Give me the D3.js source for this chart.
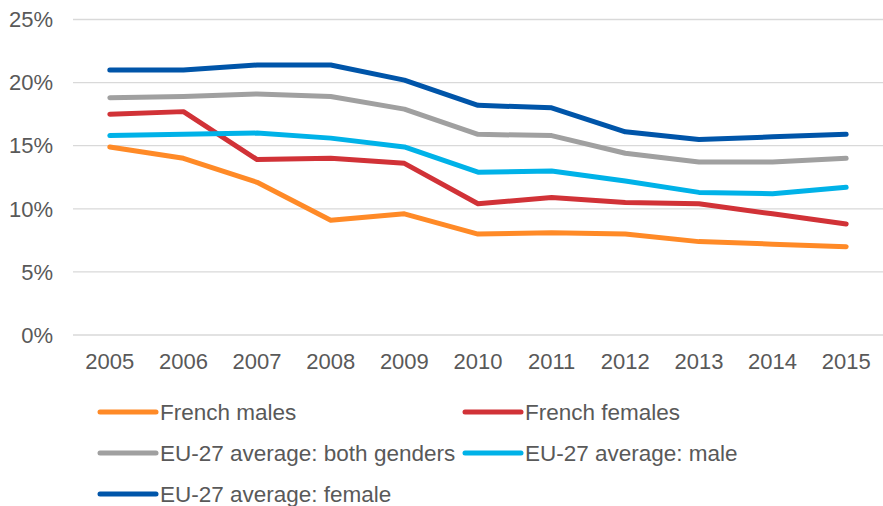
<!DOCTYPE html>
<html lang="en">
<head>
  <meta charset="UTF-8">
  <title>Unemployment rates</title>
  <script src="https://cdn.jsdelivr.net/npm/d3@7/dist/d3.min.js"></script>
  <style>
    body {
      margin: 0;
      background: #ffffff;
      font-family: 'Liberation Sans', Arial, sans-serif;
    }
    svg {
      display: block;
    }
    .tick-label {
      fill: #595959;
      font-size: 22px;
    }
    .legend-label {
      fill: #595959;
      font-size: 22.5px;
    }
  </style>
</head>
<body>
  <svg id="chart" width="883" height="506"></svg>

  <script>
    const years = ["2005", "2006", "2007", "2008", "2009", "2010", "2011", "2012", "2013", "2014", "2015"];
    const yTicks = [0, 5, 10, 15, 20, 25];

    const seriesNames = [
      "French males",
      "French females",
      "EU-27 average: both genders",
      "EU-27 average: male",
      "EU-27 average: female"
    ];
    const seriesColors = ["#ff8a27", "#d13237", "#a0a0a0", "#00b2e8", "#0055a9"];

    const frenchMales = [14.9, 14.0, 12.1, 9.1, 9.6, 8.0, 8.1, 8.0, 7.4, 7.2, 7.0];
    const frenchFemales = [17.5, 17.7, 13.9, 14.0, 13.6, 10.4, 10.9, 10.5, 10.4, 9.6, 8.8];
    const euBoth = [18.8, 18.9, 19.1, 18.9, 17.9, 15.9, 15.8, 14.4, 13.7, 13.7, 14.0];
    const euMale = [15.8, 15.9, 16.0, 15.6, 14.9, 12.9, 13.0, 12.2, 11.3, 11.2, 11.7];
    const euFemale = [21.0, 21.0, 21.4, 21.4, 20.2, 18.2, 18.0, 16.1, 15.5, 15.7, 15.9];

    const seriesValues = [frenchMales, frenchFemales, euBoth, euMale, euFemale];

    const svg = d3.select("#chart");

    const plotLeft = 73, plotRight = 883, plotTop = 19.5, plotBottom = 335;

    const x = d3.scaleBand()
      .domain(years)
      .range([plotLeft, plotRight]);

    const y = d3.scaleLinear()
      .domain([0, 25])
      .range([plotBottom, plotTop]);

    // gridlines
    svg.append("g")
      .selectAll("line")
      .data(yTicks)
      .join("line")
      .attr("x1", plotLeft)
      .attr("x2", plotRight)
      .attr("y1", d => y(d))
      .attr("y2", d => y(d))
      .attr("stroke", "#d9d9d9")
      .attr("stroke-width", 1.3);

    // y labels
    svg.append("g")
      .selectAll("text")
      .data(yTicks)
      .join("text")
      .attr("class", "tick-label")
      .attr("x", 53)
      .attr("y", d => y(d))
      .attr("dy", "0.35em")
      .attr("text-anchor", "end")
      .text(d => d + "%");

    // x labels
    svg.append("g")
      .selectAll("text")
      .data(years)
      .join("text")
      .attr("class", "tick-label")
      .attr("x", d => x(d) + x.bandwidth() / 2)
      .attr("y", 369)
      .attr("text-anchor", "middle")
      .text(d => d);

    const line = d3.line()
      .x((d, i) => x(years[i]) + x.bandwidth() / 2)
      .y(d => y(d));

    svg.append("g")
      .selectAll("path")
      .data(seriesValues)
      .join("path")
      .attr("d", d => line(d))
      .attr("fill", "none")
      .attr("stroke", (d, i) => seriesColors[i])
      .attr("stroke-width", 5)
      .attr("stroke-linecap", "round")
      .attr("stroke-linejoin", "round");

    // legend
    const legendPos = [
      { lx: 100, ly: 412 },
      { lx: 465, ly: 412 },
      { lx: 100, ly: 453 },
      { lx: 465, ly: 453 },
      { lx: 100, ly: 494 }
    ];

    const legend = svg.append("g")
      .selectAll("g")
      .data(seriesNames)
      .join("g")
      .attr("transform", (d, i) => `translate(${legendPos[i].lx},${legendPos[i].ly})`);

    legend.append("line")
      .attr("x1", 0)
      .attr("x2", 56)
      .attr("stroke", (d, i) => seriesColors[i])
      .attr("stroke-width", 5)
      .attr("stroke-linecap", "round");

    legend.append("text")
      .attr("class", "legend-label")
      .attr("x", 60)
      .attr("dy", "0.35em")
      .text(d => d);
  </script>
</body>
</html>
